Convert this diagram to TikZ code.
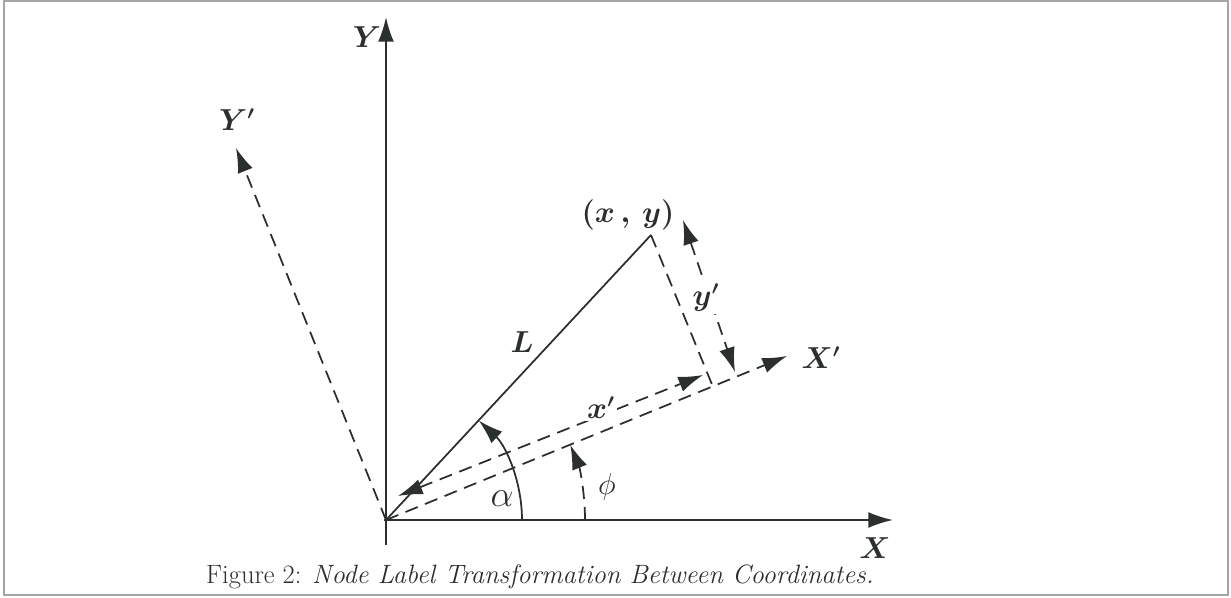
\documentclass[tikz,border=0pt]{standalone}
\usepackage{amsmath}
\usetikzlibrary{arrows.meta, calc}
\definecolor{ScanInk}{HTML}{2B302D}
\definecolor{FrameGray}{HTML}{A3A6A1}
\newcommand{\AxisFont}{\boldmath\fontsize{16pt}{18pt}\selectfont}
\newcommand{\CaptionFont}{\fontsize{15.1pt}{18pt}\selectfont}

\begin{document}
\begin{tikzpicture}[x=0.02cm, y=0.02cm,
  axis/.style={ScanInk, line width=1.1pt},
  guide/.style={ScanInk, line width=1pt, dash pattern=on 7.5pt off 4.5pt},
  tip/.style={-{Latex[length=14pt,width=9pt]}},
  twotip/.style={{Latex[length=14pt,width=9pt]}-{Latex[length=14pt,width=9pt]}},
  lbl/.style={text=ScanInk, inner sep=0pt, font=\AxisFont}]
  \useasboundingbox (0,0) rectangle (1231,598);
  \draw[FrameGray, line width=1.2pt] (4,3) rectangle (1228,597);
  % frames
  \coordinate (O) at (386,78);
  \coordinate (Xs) at (384,78);
  \coordinate (Xe) at (893,78);
  \coordinate (Ys) at (386,53);
  \coordinate (Ye) at (386,581);
  \coordinate (Yr) at (236,450);
  \coordinate (Xr) at (787,242);
  \coordinate (P) at (651,363);
  \coordinate (F) at (713,211);
  \coordinate (Dxa) at (398,102);
  \coordinate (Dxb) at (703,223);
  \coordinate (Dya) at (683,378);
  \coordinate (Dyb) at (735,226);
  \draw[axis, tip] (Xs) -- (Xe);
  \draw[axis, tip] (Ys) -- (Ye);
  \draw[guide, tip] (O) -- (Yr);
  \draw[guide, tip] (O) -- (Xr);
  % point and projections
  \draw[axis, line width=1pt] (O) -- (P);
  \draw[guide] (P) -- (F);
  \draw[guide, twotip] (Dxa) -- (Dxb);
  \draw[guide, twotip] (Dya) -- (Dyb);
  % angles
  \draw[axis, line width=1pt, tip] (O) ++(0:136) arc[start angle=0, end angle=47, radius=136];
  \draw[guide, tip] (O) ++(0:199) arc[start angle=0, end angle=22.2, radius=199];
  % labels
  \node[lbl] (xlab) at (875,50) {$X$};
  \node[lbl] (ylab) at (367,561) {$Y$};
  \node[lbl] (yrlab) at (237,478) {$Y'$};
  \node[lbl] (xrlab) at (821,240) {$X'$};
  \node[lbl] (plab) at (628,383) {$(x\,,\,y)$};
  \node[lbl] (llab) at (522,256) {$L$};
  \node[lbl, fill=white, inner sep=1.5pt] (dxlab) at (601,190) {$x'$};
  \node[lbl, fill=white, inner sep=1.5pt] (dylab) at (706,300) {$y'$};
  \node[text=ScanInk, font=\fontsize{22pt}{24pt}\selectfont] (alab) at (502,99) {$\alpha$};
  \node[text=ScanInk, font=\fontsize{18pt}{20pt}\selectfont] (flab) at (607,111) {$\phi$};
  \node[text=ScanInk, font=\CaptionFont] (caption) at (540,21)
    {Figure 2: \textit{Node Label Transformation Between Coordinates.}};
\end{tikzpicture}
\end{document}
